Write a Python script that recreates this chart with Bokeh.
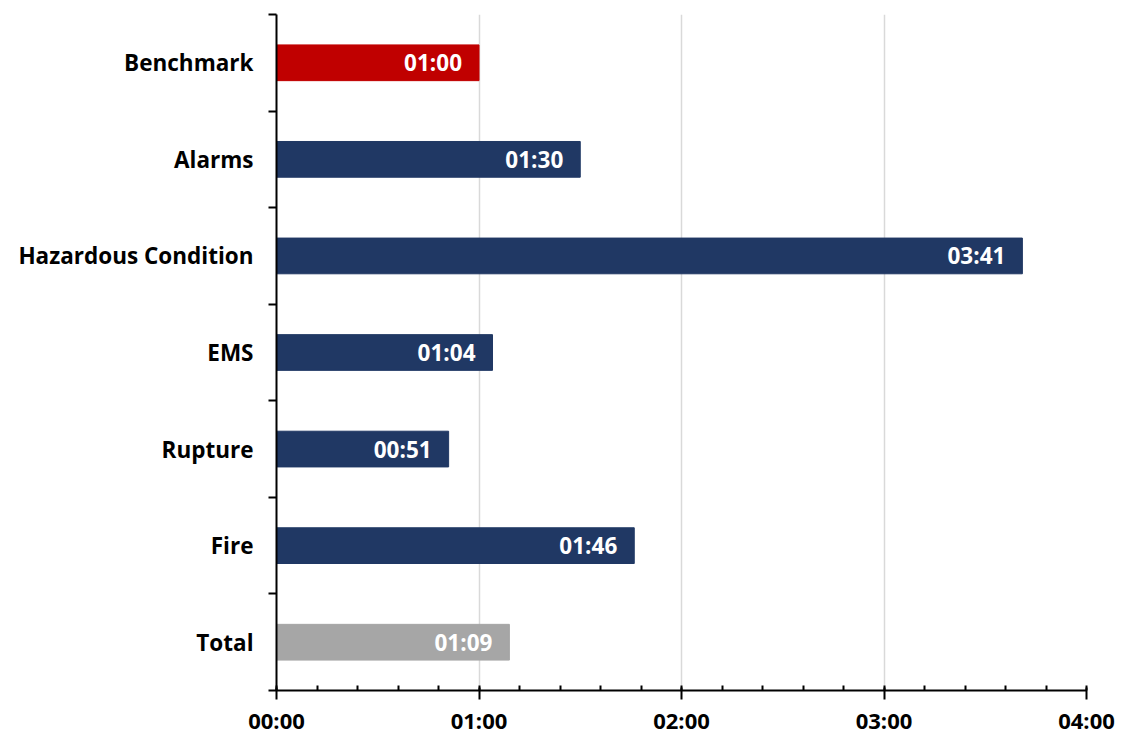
from bokeh.plotting import figure
from bokeh.models import ColumnDataSource, Range1d, FixedTicker
from bokeh.core.properties import value
from bokeh.embed import file_html
from bokeh.resources import INLINE

# Response times per incident type, in seconds
categories = ["Benchmark", "Alarms", "Hazardous Condition", "EMS", "Rupture", "Fire", "Total"]
seconds = [60, 90, 221, 64, 51, 106, 69]
bar_colors = ["#C00000", "#203864", "#203864", "#203864", "#203864", "#203864", "#A6A6A6"]
x_tick_values = [0, 60, 120, 180, 240]
x_tick_labels = ["00:00", "01:00", "02:00", "03:00", "04:00"]

FONT = "Open Sans"


def mmss(s):
    return f"{s // 60:02d}:{s % 60:02d}"


n = len(categories)
# first category at the top
ypos = [n - i - 0.5 for i in range(n)]

src = ColumnDataSource(dict(
    y=ypos,
    secs=seconds,
    color=bar_colors,
    label=[mmss(s) for s in seconds],
))

p = figure(
    width=1122, height=737,
    x_range=Range1d(0, 240), y_range=Range1d(0, n),
    output_backend="svg", toolbar_location=None,
    min_border_left=276, min_border_right=36,
    min_border_top=14, min_border_bottom=47,
)
p.outline_line_color = None
p.background_fill_color = "white"
p.border_fill_color = "white"

p.hbar(y="y", left=0, right="secs", height=0.37, color="color", source=src)

p.text(x="secs", y="y", text="label", source=src,
       x_offset=-17, text_align="right", text_baseline="middle",
       text_color="white", text_font=value(FONT), text_font_style="bold",
       text_font_size="22.5px")

# x axis: minutes with five minor divisions each
xax = p.xaxis[0]
xax.ticker = FixedTicker(ticks=x_tick_values,
                         minor_ticks=list(range(0, 241, 12)))
xax.major_label_overrides = {v: lab for v, lab in zip(x_tick_values, x_tick_labels)}
xax.axis_line_width = 2
xax.axis_line_color = "black"
xax.major_tick_line_width = 2
xax.major_tick_line_color = "black"
xax.major_tick_in = 3
xax.major_tick_out = 9
xax.minor_tick_line_width = 2
xax.minor_tick_line_color = "black"
xax.minor_tick_in = 5
xax.minor_tick_out = 0
xax.major_label_standoff = 5
xax.major_label_text_font = FONT
xax.major_label_text_font_style = "bold"
xax.major_label_text_font_size = "22px"
xax.major_label_text_color = "black"

# y axis: labels centred on bars, ticks on category boundaries
yax = p.yaxis[0]
yax.ticker = FixedTicker(ticks=ypos, minor_ticks=list(range(0, n + 1)))
yax.major_label_overrides = {y: c for y, c in zip(ypos, categories)}
yax.axis_line_width = 2
yax.axis_line_color = "black"
yax.major_tick_in = 0
yax.major_tick_out = 0
yax.minor_tick_line_width = 2
yax.minor_tick_line_color = "black"
yax.minor_tick_in = 0
yax.minor_tick_out = 8
yax.major_label_standoff = 15
yax.major_label_text_font = FONT
yax.major_label_text_font_style = "bold"
yax.major_label_text_font_size = "22.5px"
yax.major_label_text_color = "black"

p.xgrid.ticker = FixedTicker(ticks=x_tick_values)
p.xgrid.grid_line_color = "#D9D9D9"
p.xgrid.grid_line_width = 1.5
p.ygrid.grid_line_color = None

open("out.html", "w").write(file_html(p, INLINE))
